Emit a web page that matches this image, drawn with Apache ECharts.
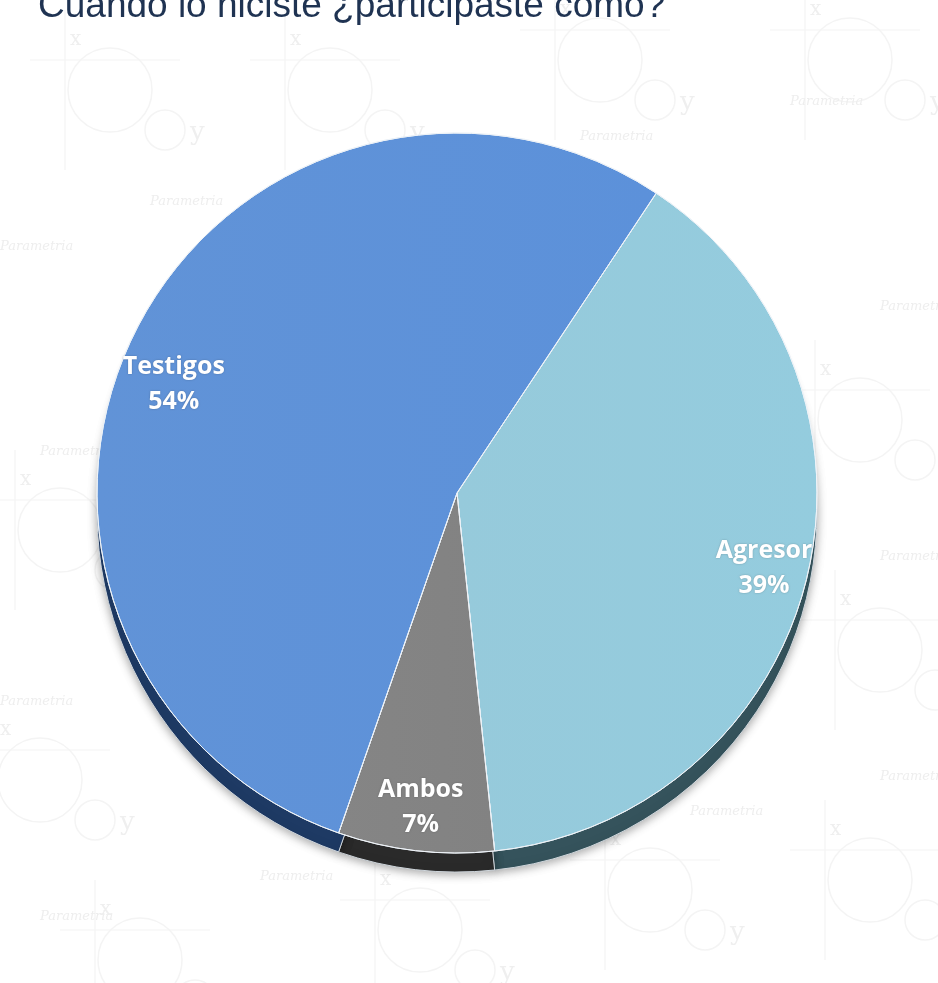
<!DOCTYPE html>
<html>
<head>
<meta charset="utf-8">
<script src="https://cdn.jsdelivr.net/npm/echarts@6/dist/echarts.min.js"></script>
<style>
  html, body { margin: 0; padding: 0; background: #fff; }
  #chart { width: 938px; height: 983px; }
</style>
</head>
<body>
<div id="chart"></div>
<script>
// datos (orden en sentido horario desde arriba a la derecha)
var categorias = ['Agresor', 'Ambos', 'Testigos'];
var valores = [39, 7, 54];
var colores = ['#92c8da', '#808080', '#5b8fd6'];
var coloresLado = ['#35535c', '#2a2a2a', '#1e3a64'];

var titulo = 'Cuando lo hiciste ¿participaste como?';

var centro = [457, 493];
var radio = 360;

var mychart = echarts.init(document.getElementById('chart'));

// marca de agua tenue de fondo (motivo x / y / z)
var marcas = [];
var motivos = [[110, 90], [330, 90], [600, 60], [850, 60], [60, 530], [860, 420], [880, 650], [40, 780], [420, 930], [650, 890], [870, 880], [140, 960]];
motivos.forEach(function (p) {
    var c = '#f4f4f4';
    marcas.push(
        { type: 'circle', silent: true, shape: { cx: p[0], cy: p[1], r: 42 }, style: { fill: 'none', stroke: c, lineWidth: 1.5 } },
        { type: 'circle', silent: true, shape: { cx: p[0] + 55, cy: p[1] + 40, r: 20 }, style: { fill: 'none', stroke: c, lineWidth: 1.5 } },
        { type: 'line', silent: true, shape: { x1: p[0] - 80, y1: p[1] - 30, x2: p[0] + 70, y2: p[1] - 30 }, style: { stroke: c, lineWidth: 1.2 } },
        { type: 'line', silent: true, shape: { x1: p[0] - 45, y1: p[1] - 80, x2: p[0] - 45, y2: p[1] + 80 }, style: { stroke: c, lineWidth: 1.2 } },
        { type: 'text', silent: true, x: p[0] - 40, y: p[1] - 60, style: { text: 'x', fill: '#efefef', font: '20px "DejaVu Serif"' } },
        { type: 'text', silent: true, x: p[0] + 80, y: p[1] + 30, style: { text: 'y', fill: '#efefef', font: '26px "DejaVu Serif"' } }
    );
});
var posMarca = [[150, 195], [580, 130], [790, 95], [0, 240], [40, 445], [880, 300], [0, 695], [880, 550], [690, 805], [260, 870], [40, 910], [880, 770]];
posMarca.forEach(function (p) {
    marcas.push({
        type: 'text', x: p[0], y: p[1], silent: true,
        style: { text: 'Parametria', fill: '#eeeeee', font: 'italic 13px "DejaVu Serif"', letterSpacing: 4 }
    });
});

var option = {
    backgroundColor: '#ffffff',
    graphic: marcas.concat([{
        type: 'text', x: 38, y: 7,
        style: {
            text: titulo, fill: '#1f3352',
            font: '37px "Liberation Sans", Arial', verticalAlign: 'middle'
        }
    }]),
    series: [
        {
            // lado 3D (sombra inferior)
            type: 'pie',
            silent: true,
            center: [centro[0], centro[1] + 19],
            radius: [0, radio],
            startAngle: 56.4,
            clockwise: true,
            label: { show: false },
            itemStyle: { shadowBlur: 10, shadowColor: 'rgba(0,0,0,0.35)', shadowOffsetY: 2 },
            data: categorias.map(function (c, i) {
                return { name: c, value: valores[i], itemStyle: { color: coloresLado[i], borderColor: '#cfd6dc', borderWidth: 1 } };
            })
        },
        {
            type: 'pie',
            center: centro,
            radius: [0, radio],
            startAngle: 56.4,
            clockwise: true,
            label: { show: false },
            data: categorias.map(function (c, i) {
                return {
                    name: c, value: valores[i],
                    itemStyle: {
                        color: new echarts.graphic.LinearGradient(0, 0, 1, 0, [
                            { offset: 0, color: echarts.color.lift(colores[i], 0.04) },
                            { offset: 1, color: echarts.color.lift(colores[i], -0.02) }
                        ]),
                        borderColor: '#eef3f8', borderWidth: 1
                    }
                };
            })
        },
        {
            // etiquetas
            type: 'pie',
            silent: true,
            center: centro,
            radius: [radio * 0.74, radio],
            startAngle: 56.4,
            clockwise: true,
            itemStyle: { color: 'rgba(0,0,0,0)' },
            label: {
                show: true,
                position: 'inner',
                formatter: '{b}\n{d}%',
                color: '#ffffff',
                fontFamily: '"Open Sans", "Noto Sans", sans-serif',
                fontWeight: 'bold',
                fontSize: 25,
                lineHeight: 35,
                textShadowColor: 'rgba(0,0,0,0.25)',
                textShadowBlur: 2
            },
            labelLine: { show: false },
            labelLayout: function (params) {
                if (params.dataIndex === 2) {
                    return { dy: 32 };
                }
                return {};
            },
            data: categorias.map(function (c, i) {
                return { name: c, value: valores[i] };
            })
        }
    ]
};

mychart.setOption(option);
</script>
</body>
</html>
